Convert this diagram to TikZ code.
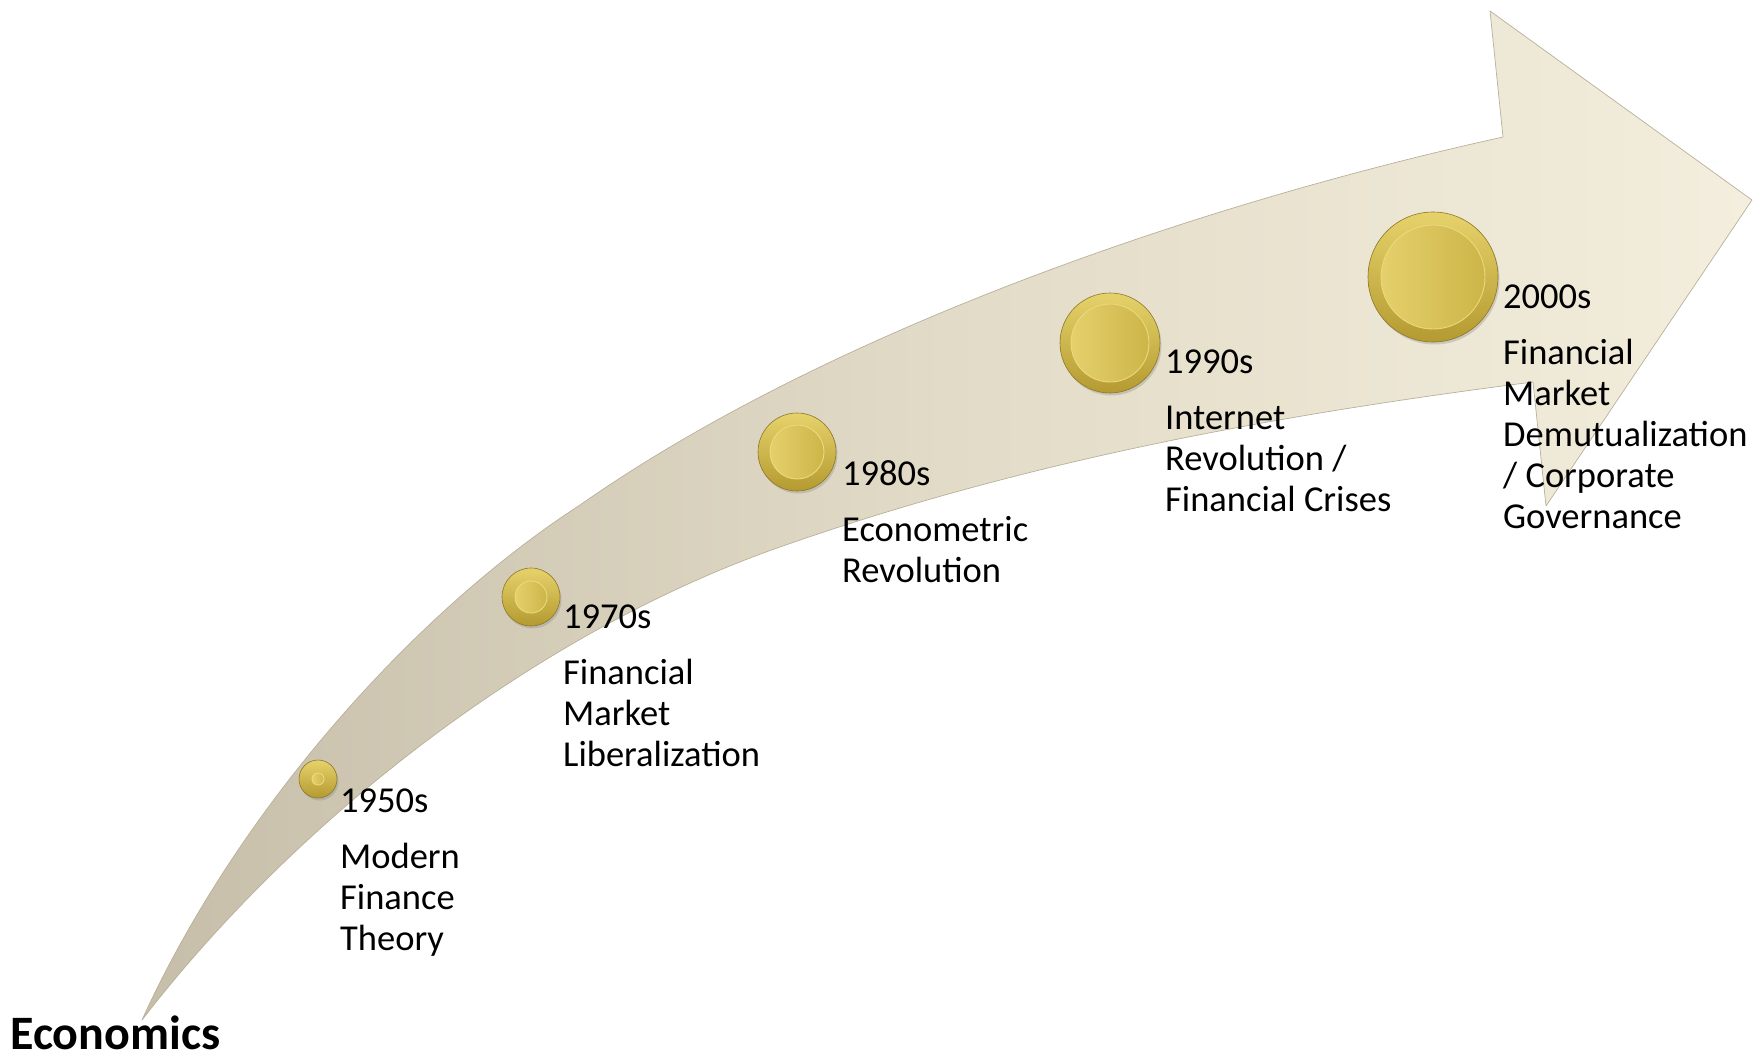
\documentclass[tikz,border=0pt]{standalone}
\usepackage{fontspec}
\setmainfont{Carlito}
\usetikzlibrary{shadows}
\definecolor{arrowTail}{HTML}{C6BEA9}
\definecolor{arrowMid}{HTML}{E2DBC7}
\definecolor{arrowHead}{HTML}{F3EEDD}
\definecolor{arrowEdge}{HTML}{B9B09A}
\definecolor{coinTop}{HTML}{E6D26B}
\definecolor{coinBot}{HTML}{B49A30}
\definecolor{coinEdge}{HTML}{8C7828}
\definecolor{faceLeft}{HTML}{E4D06C}
\definecolor{faceRight}{HTML}{CDB548}
\definecolor{faceRim}{HTML}{EBD97C}
\begin{document}
\begin{tikzpicture}[x=1pt,y=-1pt,
  arrowbody/.style={left color=arrowTail, right color=arrowHead, middle color=arrowMid, draw=arrowEdge, line width=0.7pt, line join=round},
  coin/.style={circle, inner sep=0pt, top color=coinTop, bottom color=coinBot, draw=coinEdge, line width=0.6pt, drop shadow={opacity=0.3, shadow xshift=1.5pt, shadow yshift=-2.5pt}},
  coinface/.style={left color=faceLeft, right color=faceRight, draw=faceRim, line width=0.9pt},
  lbl/.style={anchor=base west, inner sep=0pt, font=\fontsize{36.5}{41}\selectfont},
  title/.style={anchor=base west, inner sep=0pt, font=\fontsize{48}{57}\selectfont\bfseries}]
\useasboundingbox (0,0) rectangle (1754,1058);
% curved arrow
\path[arrowbody] (142,1020) .. controls (235,815) and (410,615) .. (580,505)
  .. controls (830,330) and (1203,203) .. (1503,137)
  -- (1490,11) -- (1752,200) -- (1546,506) -- (1533,382)
  .. controls (1283,414) and (1030,459) .. (780,547)
  .. controls (540,631) and (300,815) .. (142,1020) -- cycle;
% coins
\node[coin, minimum size=38pt] (k50) at (318,779) {};
\path[coinface] (k50.center) circle[radius=6];
\node[coin, minimum size=58pt] (k70) at (531,597) {};
\path[coinface] (k70.center) circle[radius=16];
\node[coin, minimum size=78pt] (k80) at (797,452) {};
\path[coinface] (k80.center) circle[radius=27];
\node[coin, minimum size=100pt] (k90) at (1110,343) {};
\path[coinface] (k90.center) circle[radius=39];
\node[coin, minimum size=130pt] (k00) at (1433,277) {};
\path[coinface] (k00.center) circle[radius=52];
% labels
\node[lbl] (t50) at (340,812) {\begin{tabular}[t]{@{}l@{}}1950s\\[15pt]Modern\\Finance\\Theory\end{tabular}};
\node[lbl] (t70) at (563,628) {\begin{tabular}[t]{@{}l@{}}1970s\\[15pt]Financial\\Market\\Liberalization\end{tabular}};
\node[lbl] (t80) at (842,485) {\begin{tabular}[t]{@{}l@{}}1980s\\[15pt]Econometric\\Revolution\end{tabular}};
\node[lbl] (t90) at (1165,373) {\begin{tabular}[t]{@{}l@{}}1990s\\[15pt]Internet\\Revolution /\\Financial Crises\end{tabular}};
\node[lbl] (t00) at (1503,308) {\begin{tabular}[t]{@{}l@{}}2000s\\[15pt]Financial\\Market\\Demutualization\\/ Corporate\\Governance\end{tabular}};
\node[title] (econ) at (10,1049) {Economics};
\end{tikzpicture}
\end{document}
